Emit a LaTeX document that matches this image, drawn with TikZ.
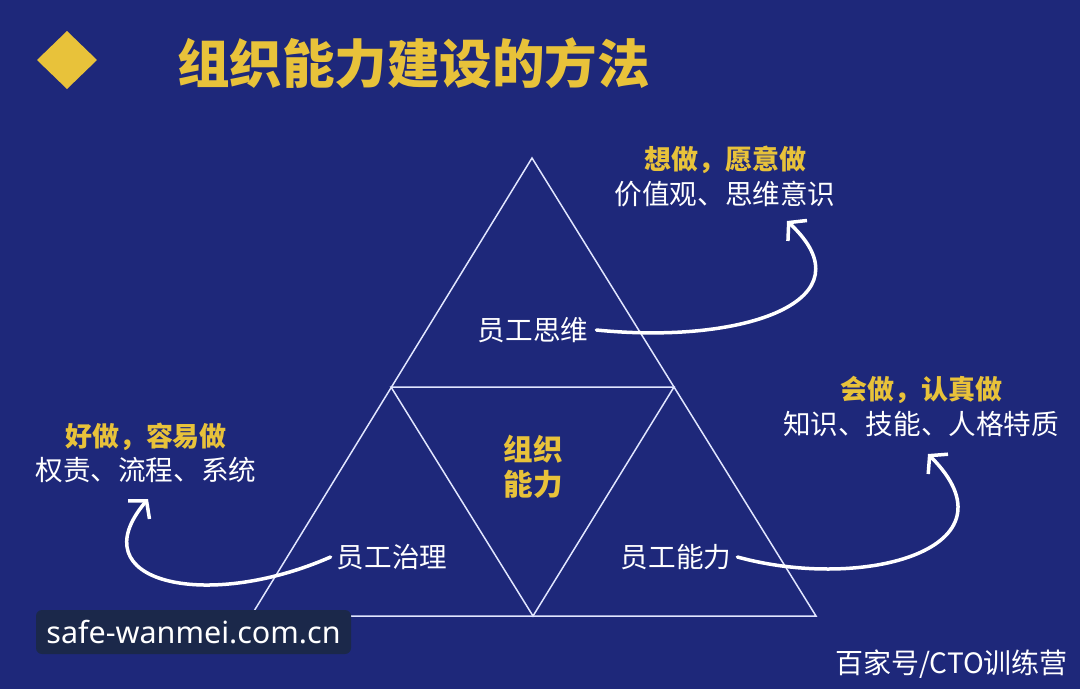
\documentclass[tikz,border=0pt]{standalone}
\usepackage{fontspec}
\newfontfamily\cjk{Noto Sans CJK SC}
\newfontfamily\wmfont{Noto Sans}
\usetikzlibrary{arrows.meta}
\definecolor{bg}{RGB}{30,40,122}
\definecolor{gold}{RGB}{232,194,58}
\definecolor{wmbox}{RGB}{27,40,74}
\definecolor{triline}{RGB}{225,230,255}
\tikzset{
  lbl/.style={font=\cjk\fontsize{27.6}{30}\selectfont, text=white, inner sep=0pt},
  headlbl/.style={font=\cjk\bfseries\fontsize{27}{30}\selectfont, text=gold, inner sep=0pt},
  triedge/.style={draw=triline, line width=1.5pt, line join=miter},
  curvy/.style={draw=white, line width=3.5pt, line cap=round,
    -{Straight Barb[length=12pt,width=28pt,line width=3.5pt]}}
}
\begin{document}
\begin{tikzpicture}[x=1pt,y=-1pt]
\fill[bg] (0,0) rectangle (1080,689);
\useasboundingbox (0,0) rectangle (1080,689);
% title
\fill[gold] (67,31) -- (97,60) -- (67,89) -- (37,60) -- cycle;
\node[font=\cjk\bfseries\fontsize{52.5}{56}\selectfont, text=gold, inner sep=0pt, anchor=west] (title) at (177,63) {组织能力建设的方法};
% triangle
\coordinate (A) at (532,158);
\coordinate (B) at (251,616);
\coordinate (C) at (816,616);
\coordinate (D) at (391,387);
\coordinate (E) at (674,387);
\coordinate (F) at (533,616);
\draw[triedge] (A) -- (B) -- (C) -- cycle;
\draw[triedge] (D) -- (E) -- (F) -- cycle;
% inner labels
\node[lbl] (siwei) at (533,330) {员工思维};
\node[lbl] (zhili) at (392,557) {员工治理};
\node[lbl] (nengli) at (676,557) {员工能力};
\node[headlbl, font=\cjk\bfseries\fontsize{29.5}{34}\selectfont, align=center] (core) at (533,467) {组织\\[1pt]能力};
% side labels
\node[headlbl] (h1) at (725,160) {想做，愿意做};
\node[lbl] (t1) at (725,194) {价值观、思维意识};
\node[headlbl] (h2) at (146,437) {好做，容易做};
\node[lbl] (t2) at (146,470) {权责、流程、系统};
\node[headlbl] (h3) at (921,390) {会做，认真做};
\node[lbl] (t3) at (921,424) {知识、技能、人格特质};
% arrows
\coordinate (e1) at (787,221);
\coordinate (e2) at (148,499);
\coordinate (e3) at (928,454);
\draw[curvy] ([xshift=8pt]siwei.east) .. controls (745,345) and (872,300) .. (e1);
\draw[curvy] ([xshift=-6pt]zhili.west) .. controls (205,612) and (78,582) .. (e2);
\draw[curvy] ([xshift=6pt]nengli.east) .. controls (865,592) and (1022,548) .. (e3);
% watermarks
\node[fill=wmbox, rounded corners=6pt, minimum width=315pt, minimum height=44pt, inner sep=0pt] (wmbg) at (193.5,632) {};
\node[font=\wmfont\fontsize{30.5}{34}\selectfont, text=white, inner sep=0pt] (wm) at (wmbg.center) {safe-wanmei.com.cn};
\node[font=\cjk\fontsize{28}{32}\selectfont, text=white, inner sep=0pt, anchor=east] (src) at (1068,664) {百家号/CTO训练营};
\end{tikzpicture}
\end{document}
